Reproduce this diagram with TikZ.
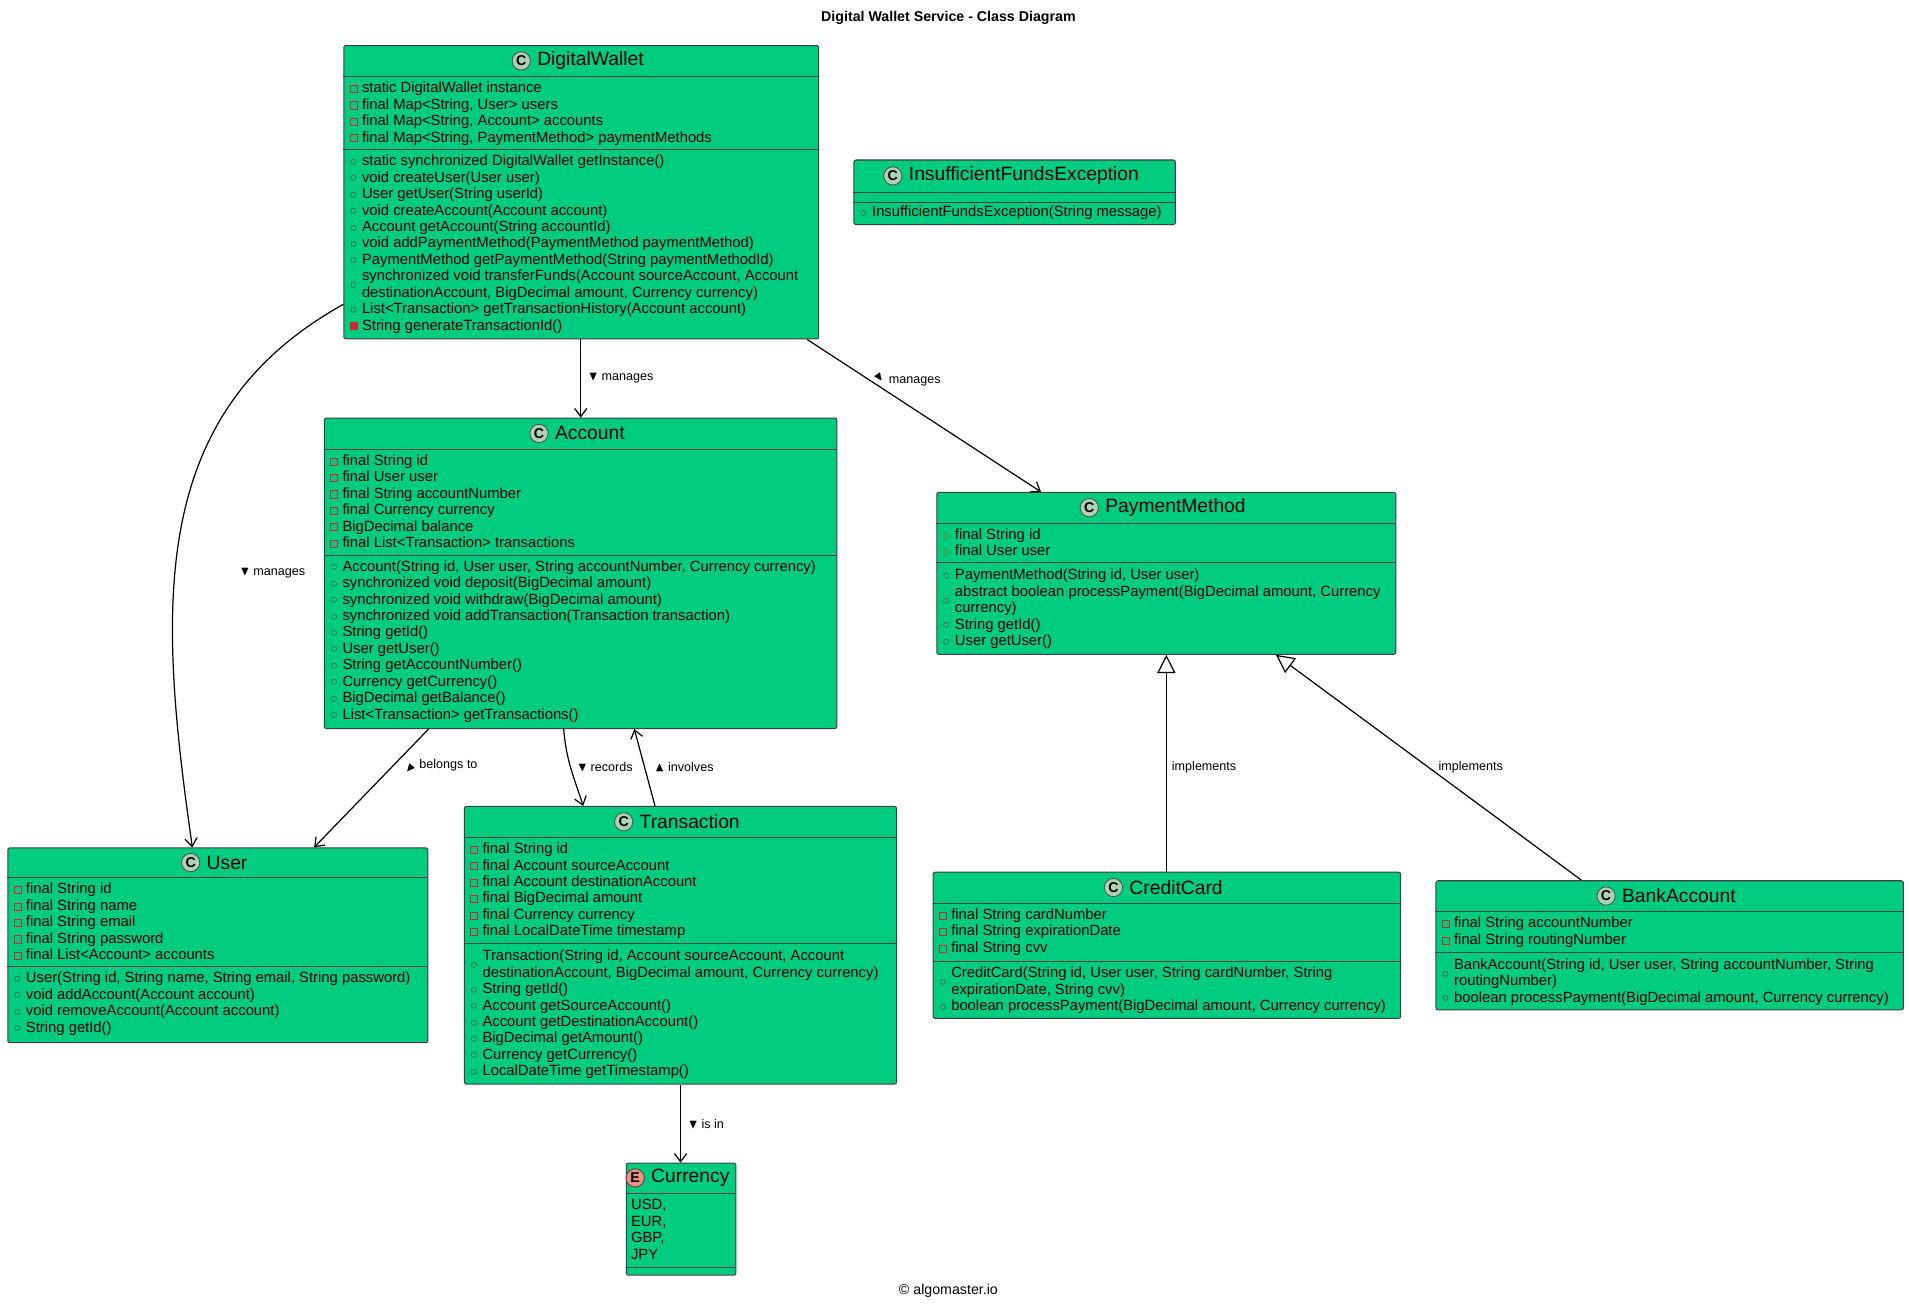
\documentclass[tikz,border=0pt]{standalone}
\usepackage{fontspec}
\setmainfont{Liberation Sans}
\usepackage{amssymb}
\usepackage{graphicx}
\usetikzlibrary{arrows.meta,positioning}
\definecolor{cgreen}{HTML}{00CC80}
\definecolor{pvred}{HTML}{C82930}
\definecolor{pugreen}{HTML}{2F5535}
\definecolor{ptbrown}{HTML}{8A6A10}
\definecolor{ciconc}{HTML}{ADD1B2}
\definecolor{eiconc}{HTML}{EB937F}
\newcommand\pv{\makebox[6pt][l]{\textcolor{pvred}{\fboxsep0pt\fboxrule0.5pt\raisebox{0.3pt}{\fbox{\rule{0pt}{3pt}\rule{3pt}{0pt}}}}}}
\newcommand\pvm{\makebox[6pt][l]{\textcolor{pvred}{\rule{4pt}{4pt}}}}
\newcommand\pu{\makebox[6pt][l]{\textcolor{pugreen}{\raisebox{0.2pt}{\scalebox{0.9}{$\circ$}}}}}
\newcommand\pt{\makebox[6pt][l]{\textcolor{ptbrown}{\scalebox{0.9}{$\diamond$}}}}
\newcommand\puw{\raisebox{-4.2pt}[0pt][0pt]{\pu}}
\newcommand\ind{\hspace*{6pt}}
\tikzset{
  x=0.6pt,y=-0.6pt,
  cls/.style={draw=black!75,fill=cgreen,line width=0.5pt,rounded corners=1pt,inner sep=0},
  sep/.style={draw=black!75,line width=0.5pt},
  txt/.style={align=left,inner sep=0,font=\fontsize{7.3}{8.1}\selectfont},
  ttl/.style={inner sep=0,font=\fontsize{9.5}{11}\selectfont},
  cic/.style={circle,draw=black!70,fill=ciconc,inner sep=0,minimum size=9pt,font=\fontsize{7}{8}\selectfont\bfseries},
  lbl/.style={inner sep=1pt,font=\fontsize{6.2}{7}\selectfont},
  arr/.style={draw=black,line width=0.6pt,-{Straight Barb[length=4pt,width=6pt]}},
  inh/.style={draw=black,line width=0.6pt,-{Triangle[open,length=9pt,width=9pt,fill=white]}},
}
\newcommand\mkcls[9]{%
  \node[cls,anchor=north west,minimum width={(#4-#2)*0.6pt},minimum height={(#5-#3)*0.6pt}] (#1) at (#2,#3) {};
  \draw[sep] (#2,#6) -- (#4,#6);
  \draw[sep] (#2,#7) -- (#4,#7);
  \node[ttl] (#1t) at ({(#2+#4)/2+8},{(#3+#6)/2}) {#8};
  \node[cic,left=3pt of #1t] (#1i) {#9};
}
\begin{document}
\begin{tikzpicture}
\useasboundingbox (0,0) rectangle (1568,1073);
\fill[white] (0,0) rectangle (1568,1073);
\node[font=\fontsize{7}{8}\selectfont\bfseries] (title) at (779,15) {Digital Wallet Service - Class Diagram};
\node[font=\fontsize{7}{8}\selectfont] (footer) at (779,1060) {© algomaster.io};

% DigitalWallet
\mkcls{dw}{282}{37}{672}{278}{63}{123}{DigitalWallet}{C}
\node[txt,anchor=north west] at (287,67) {\pv static DigitalWallet instance\\ \pv final Map<String, User> users\\ \pv final Map<String, Account> accounts\\ \pv final Map<String, PaymentMethod> paymentMethods};
\node[txt,anchor=north west] at (287,127) {\pu static synchronized DigitalWallet getInstance()\\ \pu void createUser(User user)\\ \pu User getUser(String userId)\\ \pu void createAccount(Account account)\\ \pu Account getAccount(String accountId)\\ \pu void addPaymentMethod(PaymentMethod paymentMethod)\\ \pu PaymentMethod getPaymentMethod(String paymentMethodId)\\ \puw synchronized void transferFunds(Account sourceAccount, Account\\ \ind destinationAccount, BigDecimal amount, Currency currency)\\ \pu List<Transaction> getTransactionHistory(Account account)\\ \pvm String generateTransactionId()};

% InsufficientFundsException
\mkcls{ife}{701}{131}{965}{184}{158}{166}{InsufficientFundsException}{C}
\node[txt,anchor=north west] at (706,169) {\pu InsufficientFundsException(String message)};

% Account
\mkcls{acc}{266}{343}{687}{598}{369}{456}{Account}{C}
\node[txt,anchor=north west] at (271,373) {\pv final String id\\ \pv final User user\\ \pv final String accountNumber\\ \pv final Currency currency\\ \pv BigDecimal balance\\ \pv final List<Transaction> transactions};
\node[txt,anchor=north west] at (271,460) {\pu Account(String id, User user, String accountNumber, Currency currency)\\ \pu synchronized void deposit(BigDecimal amount)\\ \pu synchronized void withdraw(BigDecimal amount)\\ \pu synchronized void addTransaction(Transaction transaction)\\ \pu String getId()\\ \pu User getUser()\\ \pu String getAccountNumber()\\ \pu Currency getCurrency()\\ \pu BigDecimal getBalance()\\ \pu List<Transaction> getTransactions()};

% PaymentMethod
\mkcls{pm}{769}{404}{1146}{537}{430}{462}{PaymentMethod}{C}
\node[txt,anchor=north west] at (774,434) {\pt final String id\\ \pt final User user};
\node[txt,anchor=north west] at (774,467) {\pu PaymentMethod(String id, User user)\\ \puw abstract boolean processPayment(BigDecimal amount, Currency\\ \ind currency)\\ \pu String getId()\\ \pu User getUser()};

% User
\mkcls{usr}{6}{696}{351}{856}{721}{794}{User}{C}
\node[txt,anchor=north west] at (11,725) {\pv final String id\\ \pv final String name\\ \pv final String email\\ \pv final String password\\ \pv final List<Account> accounts};
\node[txt,anchor=north west] at (11,798) {\pu User(String id, String name, String email, String password)\\ \pu void addAccount(Account account)\\ \pu void removeAccount(Account account)\\ \pu String getId()};

% Transaction
\mkcls{tx}{381}{662}{736}{890}{688}{775}{Transaction}{C}
\node[txt,anchor=north west] at (386,692) {\pv final String id\\ \pv final Account sourceAccount\\ \pv final Account destinationAccount\\ \pv final BigDecimal amount\\ \pv final Currency currency\\ \pv final LocalDateTime timestamp};
\node[txt,anchor=north west] at (386,780) {\puw Transaction(String id, Account sourceAccount, Account\\ \ind destinationAccount, BigDecimal amount, Currency currency)\\ \pu String getId()\\ \pu Account getSourceAccount()\\ \pu Account getDestinationAccount()\\ \pu BigDecimal getAmount()\\ \pu Currency getCurrency()\\ \pu LocalDateTime getTimestamp()};

% CreditCard
\mkcls{cc}{766}{716}{1150}{836}{742}{790}{CreditCard}{C}
\node[txt,anchor=north west] at (771,746) {\pv final String cardNumber\\ \pv final String expirationDate\\ \pv final String cvv};
\node[txt,anchor=north west] at (771,794) {\puw CreditCard(String id, User user, String cardNumber, String\\ \ind expirationDate, String cvv)\\ \pu boolean processPayment(BigDecimal amount, Currency currency)};

% BankAccount
\mkcls{ba}{1179}{723}{1563}{829}{749}{782}{BankAccount}{C}
\node[txt,anchor=north west] at (1184,753) {\pv final String accountNumber\\ \pv final String routingNumber};
\node[txt,anchor=north west] at (1184,787) {\puw BankAccount(String id, User user, String accountNumber, String\\ \ind routingNumber)\\ \pu boolean processPayment(BigDecimal amount, Currency currency)};

% Currency
\mkcls{cur}{514}{955}{604}{1047}{980}{1041}{Currency}{E}
\node[cic,fill=eiconc] at (curi) {E};
\node[txt,anchor=north west] at (518,985) {USD,\\ EUR,\\ GBP,\\ JPY};

% connectors
\draw[arr] (dw.south -| 477,0) -- (acc.north -| 477,0);
\node[lbl] at (510,311) {$\blacktriangledown$ manages};
\draw[arr] (dw.south -| 663,0) -- (pm.north -| 855,0);
\node[lbl] at (745,311) {\rotatebox{35}{$\blacktriangledown$} manages};
\draw[arr] (dw.west |- 0,250) .. controls (120,340) and (130,500) .. (usr.north -| 158,0);
\node[lbl] at (224,471) {$\blacktriangledown$ manages};
\draw[arr] (acc.south -| 352,0) -- (usr.north -| 258,0);
\node[lbl] at (362,630) {\rotatebox{-40}{$\blacktriangledown$} belongs to};
\draw[arr] (acc.south -| 463,0) .. controls (465,625) and (472,640) .. (tx.north -| 479,0);
\node[lbl] at (497,630) {$\blacktriangledown$ records};
\draw[arr] (tx.north -| 538,0) -- (acc.south -| 521,0);
\node[lbl] at (562,630) {$\blacktriangle$ involves};
\draw[arr] (tx.south -| 559,0) -- (cur.north -| 559,0);
\node[lbl] at (580,923) {$\blacktriangledown$ is in};
\draw[inh] (cc.north -| 958,0) -- (pm.south -| 958,0);
\node[lbl] at (989,630) {implements};
\draw[inh] (ba.north -| 1299,0) -- (pm.south -| 1048,0);
\node[lbl] at (1208,630) {implements};
\end{tikzpicture}
\end{document}
